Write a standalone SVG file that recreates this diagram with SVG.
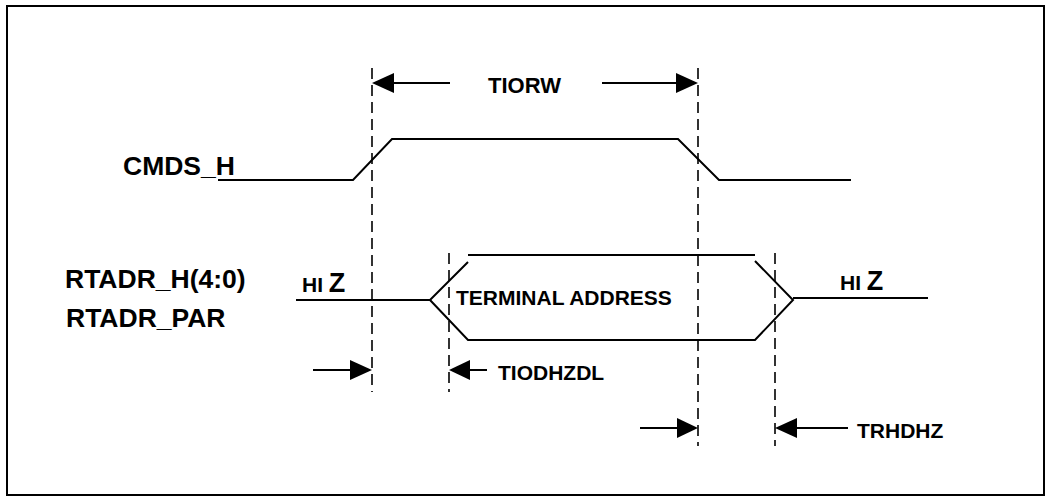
<svg xmlns="http://www.w3.org/2000/svg" width="1051" height="502" viewBox="0 0 1051 502">
<defs>
<style>
.t{font-family:"Liberation Sans",Arial,sans-serif;font-weight:bold;fill:#000}
.sig{fill:none;stroke:#000;stroke-width:2}
.dash{fill:none;stroke:#000;stroke-width:1.6;stroke-dasharray:11,6}
.ar{fill:none;stroke:#000;stroke-width:2}
.hd{fill:#000}
</style>
</defs>
<rect x="0" y="0" width="1051" height="502" fill="#fff"/>
<rect id="frame" x="7" y="6" width="1037" height="489" fill="none" stroke="#000" stroke-width="2"/>
<g id="labels">
<text class="t" x="123" y="175" font-size="26.5">CMDS_H</text>
<text class="t" x="65" y="288" font-size="26.5">RTADR_H(4:0)</text>
<text class="t" x="66" y="327" font-size="26.5">RTADR_PAR</text>
</g>
<g id="cmds_h">
<polyline class="sig" points="218,180 353,180 392,139 678,139 719,180 851,180"/>
</g>
<g id="rtadr">
<polyline class="sig" points="296,300 430,300 468,262"/>
<polyline class="sig" points="430,300 468,340 755,340 793,300 755,261"/>
<line class="sig" x1="468" y1="255" x2="755" y2="255"/>
<line class="sig" x1="793" y1="298" x2="928" y2="298"/>
<text class="t" x="302" y="292"><tspan font-size="21">HI </tspan><tspan font-size="27">Z</tspan></text>
<text class="t" x="840" y="290"><tspan font-size="21">HI </tspan><tspan font-size="27">Z</tspan></text>
<text class="t" x="456" y="305" font-size="21">TERMINAL ADDRESS</text>
</g>
<g id="guides">
<line class="dash" x1="372" y1="68" x2="372" y2="392"/>
<line class="dash" x1="698" y1="68" x2="698" y2="446"/>
<line class="dash" x1="449" y1="253" x2="449" y2="392"/>
<line class="dash" x1="775" y1="253" x2="775" y2="446"/>
</g>
<g id="connectors">
<line class="ar" x1="393" y1="83" x2="450" y2="83"/>
<polygon class="hd" points="372,83 394,73 394,93"/>
<line class="ar" x1="602" y1="83" x2="677" y2="83"/>
<polygon class="hd" points="698,83 676,73 676,93"/>
<line class="ar" x1="313" y1="370" x2="352" y2="370"/>
<polygon class="hd" points="372,370 350,360 350,380"/>
<line class="ar" x1="468" y1="370" x2="487" y2="370"/>
<polygon class="hd" points="449,370 470,360 470,380"/>
<line class="ar" x1="640" y1="428" x2="678" y2="428"/>
<polygon class="hd" points="698,428 677,418 677,438"/>
<line class="ar" x1="795" y1="428" x2="848" y2="428"/>
<polygon class="hd" points="775,428 797,418 797,438"/>
</g>
<g id="timing-labels">
<text class="t" x="488" y="93" font-size="22">TIORW</text>
<text class="t" x="498" y="380" font-size="21">TIODHZDL</text>
<text class="t" x="857" y="438" font-size="21">TRHDHZ</text>
</g>
</svg>
